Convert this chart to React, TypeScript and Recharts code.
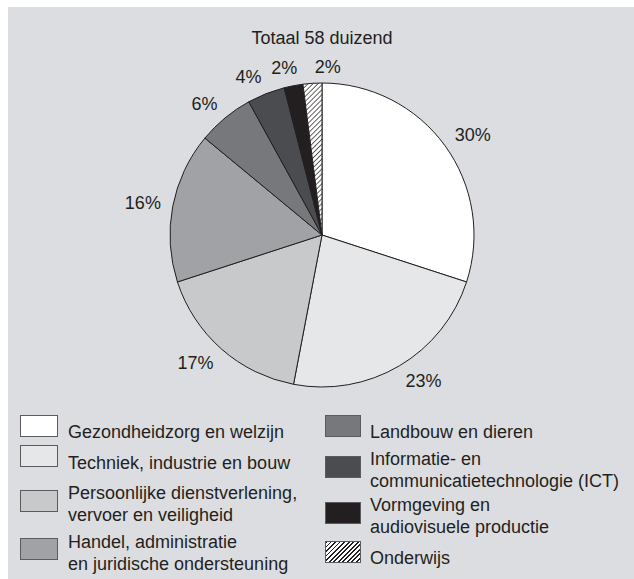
import React from "react";
import { PieChart, Pie, Cell } from "recharts";

const categories = [
  "Gezondheidzorg en welzijn",
  "Techniek, industrie en bouw",
  "Persoonlijke dienstverlening,\nvervoer en veiligheid",
  "Handel, administratie\nen juridische ondersteuning",
  "Landbouw en dieren",
  "Informatie- en\ncommunicatietechnologie (ICT)",
  "Vormgeving en\naudiovisuele productie",
  "Onderwijs",
];
const shares = [30, 23, 17, 16, 6, 4, 2, 2];
const fills = ["#ffffff", "#e6e7e8", "#c8c9cb", "#a1a2a5", "#77787b", "#4b4c4f", "#231f20", "url(#hatch)"];
const title = "Totaal 58 duizend";

const data = categories.map((name, i) => ({ name, value: shares[i] }));

const FONT = '"Liberation Sans", Arial, Helvetica, sans-serif';
const RADIAN = Math.PI / 180;

// small sideways nudges for the crowded labels near the top
const labelNudge = [0, 0, 0, 0, 0, 0, 6, 16];

// legend placement (panel coordinates): swatch top, text top, column
const legendPos = [
  { col: 0, sw: 408, tx: 414 },
  { col: 0, sw: 438, tx: 445 },
  { col: 0, sw: 483, tx: 475 },
  { col: 0, sw: 531, tx: 524 },
  { col: 1, sw: 408, tx: 414 },
  { col: 1, sw: 449, tx: 441 },
  { col: 1, sw: 495, tx: 487 },
  { col: 1, sw: 534, tx: 540 },
];

const renderLabel = (props: any) => {
  const { cx, cy, midAngle, outerRadius, value, index } = props;
  const r = outerRadius + 12;
  const cos = Math.cos(-midAngle * RADIAN);
  const sin = Math.sin(-midAngle * RADIAN);
  let x = cx + r * cos + labelNudge[index];
  let y = cy + r * sin + sin * 6;
  if (index === 7) y += 2;
  const anchor = index === 7 ? "middle" : x > cx ? "start" : "end";
  return (
    <text x={x} y={y} textAnchor={anchor} dominantBaseline="central" fill="#231f20" fontSize={18} fontFamily={FONT}>
      {value}%
    </text>
  );
};

function Swatch({ i }: { i: number }) {
  const hatch = fills[i].startsWith("url");
  return (
    <div
      style={{
        width: i >= 4 ? 36 : 38,
        height: 22,
        boxSizing: "border-box",
        border: "1px solid #5a5b5e",
        background: hatch
          ? "repeating-linear-gradient(-45deg, #ffffff 0px, #ffffff 2px, #231f20 2px, #231f20 3.2px)"
          : fills[i],
      }}
    />
  );
}

export default function App() {
  return (
    <div
      style={{
        position: "fixed",
        left: 8,
        top: 7,
        width: 626,
        height: 572,
        background: "#dcdde0",
        fontFamily: FONT,
        color: "#231f20",
        overflow: "hidden",
      }}
    >
      <div style={{ position: "absolute", top: 21, left: 0, width: 628, textAlign: "center", fontSize: 18 }}>
        {title}
      </div>
      <div style={{ position: "absolute", top: 0, left: 0 }}>
        <PieChart width={626} height={400}>
          <defs>
            <pattern id="hatch" patternUnits="userSpaceOnUse" width={3.5} height={3.5} patternTransform="rotate(45)">
              <rect width={3.5} height={3.5} fill="#ffffff" />
              <line x1={0} y1={0} x2={0} y2={3.5} stroke="#231f20" strokeWidth={1.4} />
            </pattern>
          </defs>
          <Pie
            data={data}
            dataKey="value"
            nameKey="name"
            cx={309}
            cy={223}
            outerRadius={152}
            startAngle={90}
            endAngle={-270}
            stroke="#231f20"
            strokeWidth={1}
            label={renderLabel}
            labelLine={false}
            isAnimationActive={false}
          >
            {data.map((d, i) => (
              <Cell key={d.name} fill={fills[i]} />
            ))}
          </Pie>
        </PieChart>
      </div>
      {categories.map((name, i) => {
        const p = legendPos[i];
        const sx = p.col === 0 ? 12 : 317;
        const tx = p.col === 0 ? 60 : 362;
        return (
          <React.Fragment key={name}>
            <div style={{ position: "absolute", left: sx, top: p.sw }}>
              <Swatch i={i} />
            </div>
            <div
              style={{
                position: "absolute",
                left: tx,
                top: p.tx,
                fontSize: 18,
                lineHeight: "22px",
                whiteSpace: "pre-line",
              }}
            >
              {name}
            </div>
          </React.Fragment>
        );
      })}
    </div>
  );
}
